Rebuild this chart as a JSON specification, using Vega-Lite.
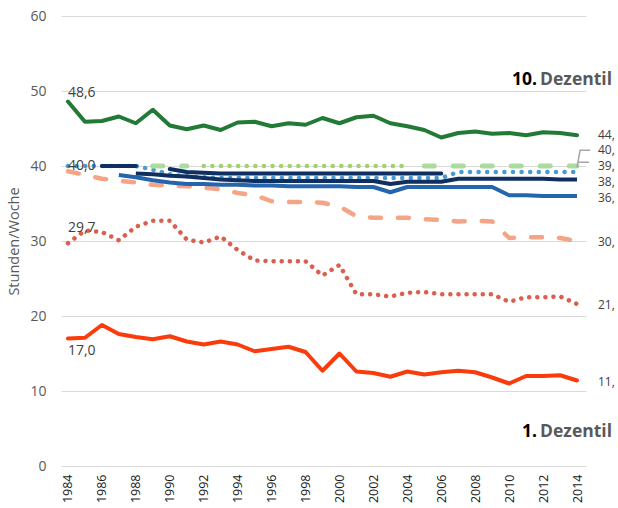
{
  "$schema": "https://vega.github.io/schema/vega-lite/v6.json",
  "width": 525,
  "height": 450,
  "autosize": {"type": "none"},
  "padding": {"left": 61, "top": 16, "right": 32, "bottom": 42},
  "config": {"view": {"stroke": null}, "font": "Open Sans"},
  "datasets": {
    "lines": [
      {"d":"D1","s":"D1","year":1984,"v":17.0},{"d":"D1","s":"D1","year":1985,"v":17.1},{"d":"D1","s":"D1","year":1986,"v":18.8},{"d":"D1","s":"D1","year":1987,"v":17.6},{"d":"D1","s":"D1","year":1988,"v":17.2},{"d":"D1","s":"D1","year":1989,"v":16.9},{"d":"D1","s":"D1","year":1990,"v":17.3},{"d":"D1","s":"D1","year":1991,"v":16.6},{"d":"D1","s":"D1","year":1992,"v":16.2},{"d":"D1","s":"D1","year":1993,"v":16.6},{"d":"D1","s":"D1","year":1994,"v":16.2},{"d":"D1","s":"D1","year":1995,"v":15.3},{"d":"D1","s":"D1","year":1996,"v":15.6},{"d":"D1","s":"D1","year":1997,"v":15.9},{"d":"D1","s":"D1","year":1998,"v":15.2},{"d":"D1","s":"D1","year":1999,"v":12.7},{"d":"D1","s":"D1","year":2000,"v":15.0},{"d":"D1","s":"D1","year":2001,"v":12.6},{"d":"D1","s":"D1","year":2002,"v":12.4},{"d":"D1","s":"D1","year":2003,"v":11.9},{"d":"D1","s":"D1","year":2004,"v":12.6},{"d":"D1","s":"D1","year":2005,"v":12.2},{"d":"D1","s":"D1","year":2006,"v":12.5},{"d":"D1","s":"D1","year":2007,"v":12.7},{"d":"D1","s":"D1","year":2008,"v":12.5},{"d":"D1","s":"D1","year":2009,"v":11.8},{"d":"D1","s":"D1","year":2010,"v":11.0},{"d":"D1","s":"D1","year":2011,"v":12.0},{"d":"D1","s":"D1","year":2012,"v":12.0},{"d":"D1","s":"D1","year":2013,"v":12.1},{"d":"D1","s":"D1","year":2014,"v":11.4},

      {"d":"D2","s":"D2","year":1984,"v":29.7},{"d":"D2","s":"D2","year":1985,"v":31.4},{"d":"D2","s":"D2","year":1986,"v":31.2},{"d":"D2","s":"D2","year":1987,"v":30.1},{"d":"D2","s":"D2","year":1988,"v":31.9},{"d":"D2","s":"D2","year":1989,"v":32.7},{"d":"D2","s":"D2","year":1990,"v":32.7},{"d":"D2","s":"D2","year":1991,"v":30.2},{"d":"D2","s":"D2","year":1992,"v":29.8},{"d":"D2","s":"D2","year":1993,"v":30.6},{"d":"D2","s":"D2","year":1994,"v":28.8},{"d":"D2","s":"D2","year":1995,"v":27.4},{"d":"D2","s":"D2","year":1996,"v":27.3},{"d":"D2","s":"D2","year":1997,"v":27.3},{"d":"D2","s":"D2","year":1998,"v":27.3},{"d":"D2","s":"D2","year":1999,"v":25.4},{"d":"D2","s":"D2","year":2000,"v":26.8},{"d":"D2","s":"D2","year":2001,"v":22.9},{"d":"D2","s":"D2","year":2002,"v":22.9},{"d":"D2","s":"D2","year":2003,"v":22.6},{"d":"D2","s":"D2","year":2004,"v":23.1},{"d":"D2","s":"D2","year":2005,"v":23.2},{"d":"D2","s":"D2","year":2006,"v":22.9},{"d":"D2","s":"D2","year":2007,"v":22.9},{"d":"D2","s":"D2","year":2008,"v":22.9},{"d":"D2","s":"D2","year":2009,"v":22.9},{"d":"D2","s":"D2","year":2010,"v":21.9},{"d":"D2","s":"D2","year":2011,"v":22.5},{"d":"D2","s":"D2","year":2012,"v":22.5},{"d":"D2","s":"D2","year":2013,"v":22.6},{"d":"D2","s":"D2","year":2014,"v":21.6},

      {"d":"D3","s":"D3","year":1984,"v":39.3},{"d":"D3","s":"D3","year":1985,"v":38.8},{"d":"D3","s":"D3","year":1986,"v":38.3},{"d":"D3","s":"D3","year":1987,"v":38.0},{"d":"D3","s":"D3","year":1988,"v":37.8},{"d":"D3","s":"D3","year":1989,"v":37.5},{"d":"D3","s":"D3","year":1990,"v":37.4},{"d":"D3","s":"D3","year":1991,"v":37.3},{"d":"D3","s":"D3","year":1992,"v":37.1},{"d":"D3","s":"D3","year":1993,"v":36.9},{"d":"D3","s":"D3","year":1994,"v":36.4},{"d":"D3","s":"D3","year":1995,"v":36.1},{"d":"D3","s":"D3","year":1996,"v":35.3},{"d":"D3","s":"D3","year":1997,"v":35.2},{"d":"D3","s":"D3","year":1998,"v":35.2},{"d":"D3","s":"D3","year":1999,"v":35.1},{"d":"D3","s":"D3","year":2000,"v":34.6},{"d":"D3","s":"D3","year":2001,"v":33.3},{"d":"D3","s":"D3","year":2002,"v":33.1},{"d":"D3","s":"D3","year":2003,"v":33.1},{"d":"D3","s":"D3","year":2004,"v":33.1},{"d":"D3","s":"D3","year":2005,"v":32.9},{"d":"D3","s":"D3","year":2006,"v":32.8},{"d":"D3","s":"D3","year":2007,"v":32.6},{"d":"D3","s":"D3","year":2008,"v":32.7},{"d":"D3","s":"D3","year":2009,"v":32.6},{"d":"D3","s":"D3","year":2010,"v":30.4},{"d":"D3","s":"D3","year":2011,"v":30.5},{"d":"D3","s":"D3","year":2012,"v":30.5},{"d":"D3","s":"D3","year":2013,"v":30.4},{"d":"D3","s":"D3","year":2014,"v":30.0},

      {"d":"D10","s":"D10","year":1984,"v":48.6},{"d":"D10","s":"D10","year":1985,"v":45.9},{"d":"D10","s":"D10","year":1986,"v":46.0},{"d":"D10","s":"D10","year":1987,"v":46.6},{"d":"D10","s":"D10","year":1988,"v":45.7},{"d":"D10","s":"D10","year":1989,"v":47.5},{"d":"D10","s":"D10","year":1990,"v":45.4},{"d":"D10","s":"D10","year":1991,"v":44.9},{"d":"D10","s":"D10","year":1992,"v":45.4},{"d":"D10","s":"D10","year":1993,"v":44.8},{"d":"D10","s":"D10","year":1994,"v":45.8},{"d":"D10","s":"D10","year":1995,"v":45.9},{"d":"D10","s":"D10","year":1996,"v":45.3},{"d":"D10","s":"D10","year":1997,"v":45.7},{"d":"D10","s":"D10","year":1998,"v":45.5},{"d":"D10","s":"D10","year":1999,"v":46.4},{"d":"D10","s":"D10","year":2000,"v":45.7},{"d":"D10","s":"D10","year":2001,"v":46.5},{"d":"D10","s":"D10","year":2002,"v":46.7},{"d":"D10","s":"D10","year":2003,"v":45.7},{"d":"D10","s":"D10","year":2004,"v":45.3},{"d":"D10","s":"D10","year":2005,"v":44.8},{"d":"D10","s":"D10","year":2006,"v":43.8},{"d":"D10","s":"D10","year":2007,"v":44.4},{"d":"D10","s":"D10","year":2008,"v":44.6},{"d":"D10","s":"D10","year":2009,"v":44.3},{"d":"D10","s":"D10","year":2010,"v":44.4},{"d":"D10","s":"D10","year":2011,"v":44.1},{"d":"D10","s":"D10","year":2012,"v":44.5},{"d":"D10","s":"D10","year":2013,"v":44.4},{"d":"D10","s":"D10","year":2014,"v":44.1},

      {"d":"D9","s":"D9","year":1987,"v":38.8},{"d":"D9","s":"D9","year":1988,"v":38.5},{"d":"D9","s":"D9","year":1989,"v":38.1},{"d":"D9","s":"D9","year":1990,"v":37.8},{"d":"D9","s":"D9","year":1991,"v":37.6},{"d":"D9","s":"D9","year":1992,"v":37.6},{"d":"D9","s":"D9","year":1993,"v":37.5},{"d":"D9","s":"D9","year":1994,"v":37.5},{"d":"D9","s":"D9","year":1995,"v":37.4},{"d":"D9","s":"D9","year":1996,"v":37.4},{"d":"D9","s":"D9","year":1997,"v":37.3},{"d":"D9","s":"D9","year":1998,"v":37.3},{"d":"D9","s":"D9","year":1999,"v":37.3},{"d":"D9","s":"D9","year":2000,"v":37.3},{"d":"D9","s":"D9","year":2001,"v":37.2},{"d":"D9","s":"D9","year":2002,"v":37.2},{"d":"D9","s":"D9","year":2003,"v":36.5},{"d":"D9","s":"D9","year":2004,"v":37.2},{"d":"D9","s":"D9","year":2005,"v":37.2},{"d":"D9","s":"D9","year":2006,"v":37.2},{"d":"D9","s":"D9","year":2007,"v":37.2},{"d":"D9","s":"D9","year":2008,"v":37.2},{"d":"D9","s":"D9","year":2009,"v":37.2},{"d":"D9","s":"D9","year":2010,"v":36.1},{"d":"D9","s":"D9","year":2011,"v":36.1},{"d":"D9","s":"D9","year":2012,"v":36.0},{"d":"D9","s":"D9","year":2013,"v":36.0},{"d":"D9","s":"D9","year":2014,"v":36.0},

      {"d":"D4","s":"D4","year":1984,"v":40.0},{"d":"D4","s":"D4","year":1985,"v":40.0},{"d":"D4","s":"D4","year":1986,"v":40.0},{"d":"D4","s":"D4","year":1987,"v":40.0},{"d":"D4","s":"D4","year":1988,"v":40.0},{"d":"D4","s":"D4","year":1989,"v":39.5},{"d":"D4","s":"D4","year":1990,"v":38.9},{"d":"D4","s":"D4","year":1991,"v":38.6},{"d":"D4","s":"D4","year":1992,"v":38.5},{"d":"D4","s":"D4","year":1993,"v":38.4},{"d":"D4","s":"D4","year":1994,"v":38.4},{"d":"D4","s":"D4","year":1995,"v":38.4},{"d":"D4","s":"D4","year":1996,"v":38.4},{"d":"D4","s":"D4","year":1997,"v":38.4},{"d":"D4","s":"D4","year":1998,"v":38.4},{"d":"D4","s":"D4","year":1999,"v":38.4},{"d":"D4","s":"D4","year":2000,"v":38.4},{"d":"D4","s":"D4","year":2001,"v":38.4},{"d":"D4","s":"D4","year":2002,"v":38.4},{"d":"D4","s":"D4","year":2003,"v":38.4},{"d":"D4","s":"D4","year":2004,"v":38.4},{"d":"D4","s":"D4","year":2005,"v":38.4},{"d":"D4","s":"D4","year":2006,"v":38.4},{"d":"D4","s":"D4","year":2007,"v":39.2},{"d":"D4","s":"D4","year":2008,"v":39.2},{"d":"D4","s":"D4","year":2009,"v":39.2},{"d":"D4","s":"D4","year":2010,"v":39.2},{"d":"D4","s":"D4","year":2011,"v":39.2},{"d":"D4","s":"D4","year":2012,"v":39.2},{"d":"D4","s":"D4","year":2013,"v":39.2},{"d":"D4","s":"D4","year":2014,"v":39.2},

      {"d":"D5","s":"D5a","year":1989,"v":40.0},{"d":"D5","s":"D5a","year":1990,"v":40.0},{"d":"D5","s":"D5a","year":1991,"v":40.0},
      {"d":"D5","s":"D5b","year":2005,"v":40.0},{"d":"D5","s":"D5b","year":2006,"v":40.0},{"d":"D5","s":"D5b","year":2007,"v":40.0},{"d":"D5","s":"D5b","year":2008,"v":40.0},{"d":"D5","s":"D5b","year":2009,"v":40.0},{"d":"D5","s":"D5b","year":2010,"v":40.0},{"d":"D5","s":"D5b","year":2011,"v":40.0},{"d":"D5","s":"D5b","year":2012,"v":40.0},{"d":"D5","s":"D5b","year":2013,"v":40.0},{"d":"D5","s":"D5b","year":2014,"v":40.0},

      {"d":"D6","s":"D6","year":1992,"v":40.0},{"d":"D6","s":"D6","year":1993,"v":40.0},{"d":"D6","s":"D6","year":1994,"v":40.0},{"d":"D6","s":"D6","year":1995,"v":40.0},{"d":"D6","s":"D6","year":1996,"v":40.0},{"d":"D6","s":"D6","year":1997,"v":40.0},{"d":"D6","s":"D6","year":1998,"v":40.0},{"d":"D6","s":"D6","year":1999,"v":40.0},{"d":"D6","s":"D6","year":2000,"v":40.0},{"d":"D6","s":"D6","year":2001,"v":40.0},{"d":"D6","s":"D6","year":2002,"v":40.0},{"d":"D6","s":"D6","year":2003,"v":40.0},{"d":"D6","s":"D6","year":2004,"v":40.0},

      {"d":"D8","s":"D8","year":1988,"v":39.0},{"d":"D8","s":"D8","year":1989,"v":38.9},{"d":"D8","s":"D8","year":1990,"v":38.7},{"d":"D8","s":"D8","year":1991,"v":38.6},{"d":"D8","s":"D8","year":1992,"v":38.4},{"d":"D8","s":"D8","year":1993,"v":38.2},{"d":"D8","s":"D8","year":1994,"v":38.1},{"d":"D8","s":"D8","year":1995,"v":38.0},{"d":"D8","s":"D8","year":1996,"v":38.0},{"d":"D8","s":"D8","year":1997,"v":38.0},{"d":"D8","s":"D8","year":1998,"v":38.0},{"d":"D8","s":"D8","year":1999,"v":38.0},{"d":"D8","s":"D8","year":2000,"v":38.0},{"d":"D8","s":"D8","year":2001,"v":38.0},{"d":"D8","s":"D8","year":2002,"v":38.0},{"d":"D8","s":"D8","year":2003,"v":37.6},{"d":"D8","s":"D8","year":2004,"v":37.9},{"d":"D8","s":"D8","year":2005,"v":37.9},{"d":"D8","s":"D8","year":2006,"v":37.9},{"d":"D8","s":"D8","year":2007,"v":38.3},{"d":"D8","s":"D8","year":2008,"v":38.3},{"d":"D8","s":"D8","year":2009,"v":38.3},{"d":"D8","s":"D8","year":2010,"v":38.3},{"d":"D8","s":"D8","year":2011,"v":38.3},{"d":"D8","s":"D8","year":2012,"v":38.3},{"d":"D8","s":"D8","year":2013,"v":38.2},{"d":"D8","s":"D8","year":2014,"v":38.2},

      {"d":"D7","s":"D7a","year":1986,"v":40.0},{"d":"D7","s":"D7a","year":1987,"v":40.0},{"d":"D7","s":"D7a","year":1988,"v":40.0},
      {"d":"D7","s":"D7b","year":1990,"v":39.6},{"d":"D7","s":"D7b","year":1991,"v":39.2},{"d":"D7","s":"D7b","year":1992,"v":39.1},{"d":"D7","s":"D7b","year":1993,"v":39.0},{"d":"D7","s":"D7b","year":1994,"v":39.0},{"d":"D7","s":"D7b","year":1995,"v":39.0},{"d":"D7","s":"D7b","year":1996,"v":39.0},{"d":"D7","s":"D7b","year":1997,"v":39.0},{"d":"D7","s":"D7b","year":1998,"v":39.0},{"d":"D7","s":"D7b","year":1999,"v":39.0},{"d":"D7","s":"D7b","year":2000,"v":39.0},{"d":"D7","s":"D7b","year":2001,"v":39.0},{"d":"D7","s":"D7b","year":2002,"v":39.0},{"d":"D7","s":"D7b","year":2003,"v":39.0},{"d":"D7","s":"D7b","year":2004,"v":39.0},{"d":"D7","s":"D7b","year":2005,"v":39.0},{"d":"D7","s":"D7b","year":2006,"v":39.0}
    ],
    "startLabels": [
      {"year":1984,"v":49.8,"t":"48,6"},
      {"year":1984,"v":40.0,"t":"40,0"},
      {"year":1984,"v":31.8,"t":"29,7"},
      {"year":1984,"v":15.3,"t":"17,0"}
    ],
    "endLabels": [
      {"year":2014,"v":44.2,"t":"44,"},
      {"year":2014,"v":42.1,"t":"40,"},
      {"year":2014,"v":40.0,"t":"39,"},
      {"year":2014,"v":37.9,"t":"38,"},
      {"year":2014,"v":35.8,"t":"36,"},
      {"year":2014,"v":29.9,"t":"30,"},
      {"year":2014,"v":21.5,"t":"21,"},
      {"year":2014,"v":11.2,"t":"11,"}
    ],
    "leaders": [
      {"g":"a","year":2014.0,"v":39.8},{"g":"a","year":2014.18,"v":42.1},{"g":"a","year":2014.77,"v":42.1},
      {"g":"b","year":2014.06,"v":40.5},{"g":"b","year":2014.71,"v":40.5}
    ],
    "notes": [
      {"year":2014,"v":51.5,"n":"10.","t":"Dezentil"},
      {"year":2014,"v":4.5,"n":"1.","t":"Dezentil"}
    ]
  },
  "encoding": {
    "x": {
      "field": "year", "type": "quantitative",
      "scale": {"domain": [1983.59, 2014.53], "nice": false, "zero": false},
      "axis": {
        "values": [1984,1986,1988,1990,1992,1994,1996,1998,2000,2002,2004,2006,2008,2010,2012,2014],
        "format": "d", "labelAngle": -90, "grid": false, "domain": false, "ticks": false,
        "labelPadding": 8, "labelFontSize": 12.5, "labelColor": "#1a1a1a", "title": null,
        "labelFlush": false, "labelOverlap": false, "labelFont": "Open Sans"
      }
    },
    "y": {
      "field": "v", "type": "quantitative",
      "scale": {"domain": [0, 60], "nice": false},
      "axis": {
        "values": [0,10,20,30,40,50,60], "grid": true, "gridColor": "#d9d9d9", "gridWidth": 1,
        "domain": false, "ticks": false, "labelPadding": 15, "labelFontSize": 14,
        "labelColor": "#595959", "title": "Stunden/Woche", "titleFontSize": 14.5,
        "titleFontWeight": "normal", "titleColor": "#595959", "titlePadding": 8, "labelFont": "Open Sans", "titleFont": "Open Sans"
      }
    }
  },
  "layer": [
    {"data": {"name": "lines"}, "transform": [{"filter": "datum.d === 'D3'"}],
     "mark": {"type": "line", "color": "#f5a586", "strokeWidth": 4.5, "strokeCap": "round", "strokeJoin": "round", "strokeDash": [11, 17]},
     "encoding": {"detail": {"field": "s"}}},
    {"data": {"name": "lines"}, "transform": [{"filter": "datum.d === 'D2'"}],
     "mark": {"type": "line", "color": "#d9604f", "strokeWidth": 4.5, "strokeCap": "round", "strokeJoin": "round", "strokeDash": [0.1, 8]},
     "encoding": {"detail": {"field": "s"}}},
    {"data": {"name": "lines"}, "transform": [{"filter": "datum.d === 'D1'"}],
     "mark": {"type": "line", "color": "#fa3c0c", "strokeWidth": 4, "strokeCap": "round", "strokeJoin": "round"},
     "encoding": {"detail": {"field": "s"}}},
    {"data": {"name": "lines"}, "transform": [{"filter": "datum.d === 'D10'"}],
     "mark": {"type": "line", "color": "#217a35", "strokeWidth": 4, "strokeCap": "round", "strokeJoin": "round"},
     "encoding": {"detail": {"field": "s"}}},
    {"data": {"name": "lines"}, "transform": [{"filter": "datum.d === 'D9'"}],
     "mark": {"type": "line", "color": "#2565ad", "strokeWidth": 4, "strokeCap": "butt", "strokeJoin": "round"},
     "encoding": {"detail": {"field": "s"}}},
    {"data": {"name": "lines"}, "transform": [{"filter": "datum.d === 'D4'"}],
     "mark": {"type": "line", "color": "#4a98d4", "strokeWidth": 4.5, "strokeCap": "round", "strokeJoin": "round", "strokeDash": [0.1, 8.5]},
     "encoding": {"detail": {"field": "s"}}},
    {"data": {"name": "lines"}, "transform": [{"filter": "datum.d === 'D5'"}],
     "mark": {"type": "line", "color": "#acdba0", "strokeWidth": 5, "strokeCap": "round", "strokeJoin": "round", "strokeDash": [10, 19]},
     "encoding": {"detail": {"field": "s"}}},
    {"data": {"name": "lines"}, "transform": [{"filter": "datum.d === 'D6'"}],
     "mark": {"type": "line", "color": "#a0d46a", "strokeWidth": 4.5, "strokeCap": "round", "strokeJoin": "round", "strokeDash": [0.1, 8.5]},
     "encoding": {"detail": {"field": "s"}}},
    {"data": {"name": "lines"}, "transform": [{"filter": "datum.d === 'D8'"}],
     "mark": {"type": "line", "color": "#0e2f60", "strokeWidth": 4, "strokeCap": "butt", "strokeJoin": "round"},
     "encoding": {"detail": {"field": "s"}}},
    {"data": {"name": "lines"}, "transform": [{"filter": "datum.d === 'D7'"}],
     "mark": {"type": "line", "color": "#0e2f60", "strokeWidth": 4, "strokeCap": "round", "strokeJoin": "round"},
     "encoding": {"detail": {"field": "s"}}},
    {"data": {"name": "leaders"},
     "mark": {"type": "line", "color": "#a6a6a6", "strokeWidth": 1.5, "clip": false},
     "encoding": {"detail": {"field": "g"}}},
    {"data": {"name": "startLabels"},
     "mark": {"type": "text", "align": "left", "baseline": "middle", "dx": 0, "fontSize": 14, "color": "#404040"},
     "encoding": {"text": {"field": "t"}}},
    {"data": {"name": "endLabels"},
     "mark": {"type": "text", "align": "left", "baseline": "middle", "dx": 21, "fontSize": 12, "color": "#404040", "clip": false},
     "encoding": {"text": {"field": "t"}}},
    {"data": {"name": "notes"},
     "mark": {"type": "text", "align": "right", "baseline": "middle", "dx": 35, "fontSize": 17.5, "fontWeight": "bold", "color": "#595959"},
     "encoding": {"text": {"field": "t"}}},
    {"data": {"name": "notes"},
     "mark": {"type": "text", "align": "right", "baseline": "middle", "dx": -40, "fontSize": 17.5, "fontWeight": "bold", "color": "#000000"},
     "encoding": {"text": {"field": "n"}}}
  ]
}
